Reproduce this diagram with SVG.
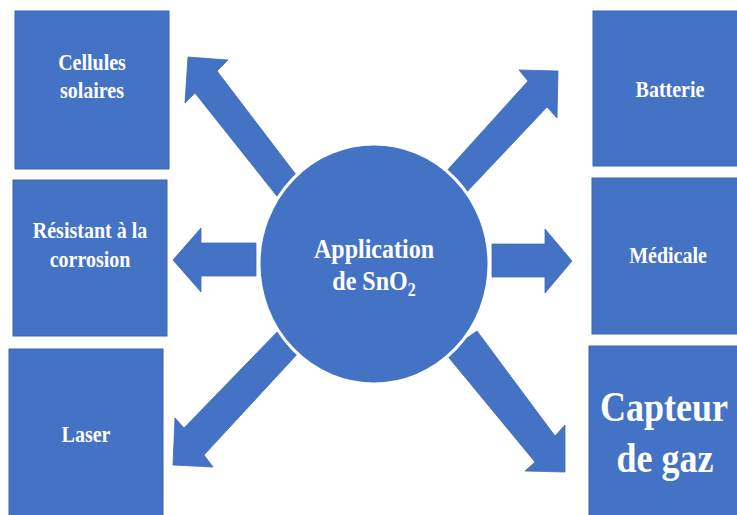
<svg xmlns="http://www.w3.org/2000/svg" width="737" height="515" viewBox="0 0 737 515">
<style>
.box{fill:#4472C4;stroke:#3B65B0;stroke-width:1}
.arr{fill:#4472C4;stroke:#3F69B8;stroke-width:0.8}
.hub{fill:#4472C4;stroke:#FFFFFF;stroke-width:3}
.t{font-family:"Liberation Serif","Times New Roman",serif;font-weight:bold;fill:#FFFFFF;text-anchor:middle;font-size:20px}
.tc{font-size:24px}
.tb{font-size:36px}
</style>
<rect width="737" height="515" fill="#FFFFFF"/>
<g id="connectors">
<polygon class="arr" points="188,57 228,60 217,71 300,180 280,200 195,93 185,103"/>
<polygon class="arr" points="558,71 519,70 528,81 443,175 462,197 547,107 557,118"/>
<polygon class="arr" points="173,260 201,228 201,243 256,243 256,276 201,276 201,292"/>
<polygon class="arr" points="492,244 545,244 545,229 572,261 545,293 545,277 492,277"/>
<polygon class="arr" points="282,327 301,350 204,455 213,467 173,465 175,418 184,428"/>
<polygon class="arr" points="477,331 555,436 565,425 565,472 525,471 535,462 445,353"/>
</g>
<g id="hub">
<ellipse class="hub" cx="374" cy="264" rx="115" ry="120"/>
<text class="t tc" transform="translate(374,258) scale(1,1.13)">Application</text>
<text class="t tc" transform="translate(374,290) scale(1,1.13)">de SnO<tspan font-size="16" dy="5">2</tspan></text>
</g>
<g id="cellules">
<rect class="box" x="15" y="11" width="154" height="158"/>
<text class="t" transform="translate(92,70) scale(1,1.13)">Cellules</text>
<text class="t" transform="translate(92,98) scale(1,1.13)">solaires</text>
</g>
<g id="resistant">
<rect class="box" x="13" y="180" width="154" height="156"/>
<text class="t" transform="translate(90,238) scale(1,1.13)">Résistant à la</text>
<text class="t" transform="translate(90,267) scale(1,1.13)">corrosion</text>
</g>
<g id="laser">
<rect class="box" x="9" y="349" width="154" height="170"/>
<text class="t" transform="translate(86,442) scale(1,1.13)">Laser</text>
</g>
<g id="batterie">
<rect class="box" x="593" y="11" width="150" height="155"/>
<text class="t" transform="translate(670,97) scale(1,1.13)">Batterie</text>
</g>
<g id="medicale">
<rect class="box" x="592" y="178" width="150" height="156"/>
<text class="t" transform="translate(668,263) scale(1,1.13)">Médicale</text>
</g>
<g id="capteur">
<rect class="box" x="589" y="346" width="152" height="173"/>
<text class="t tb" transform="translate(664,421) scale(1,1.15)">Capteur</text>
<text class="t tb" transform="translate(665,472) scale(1,1.15)">de gaz</text>
</g>
</svg>
